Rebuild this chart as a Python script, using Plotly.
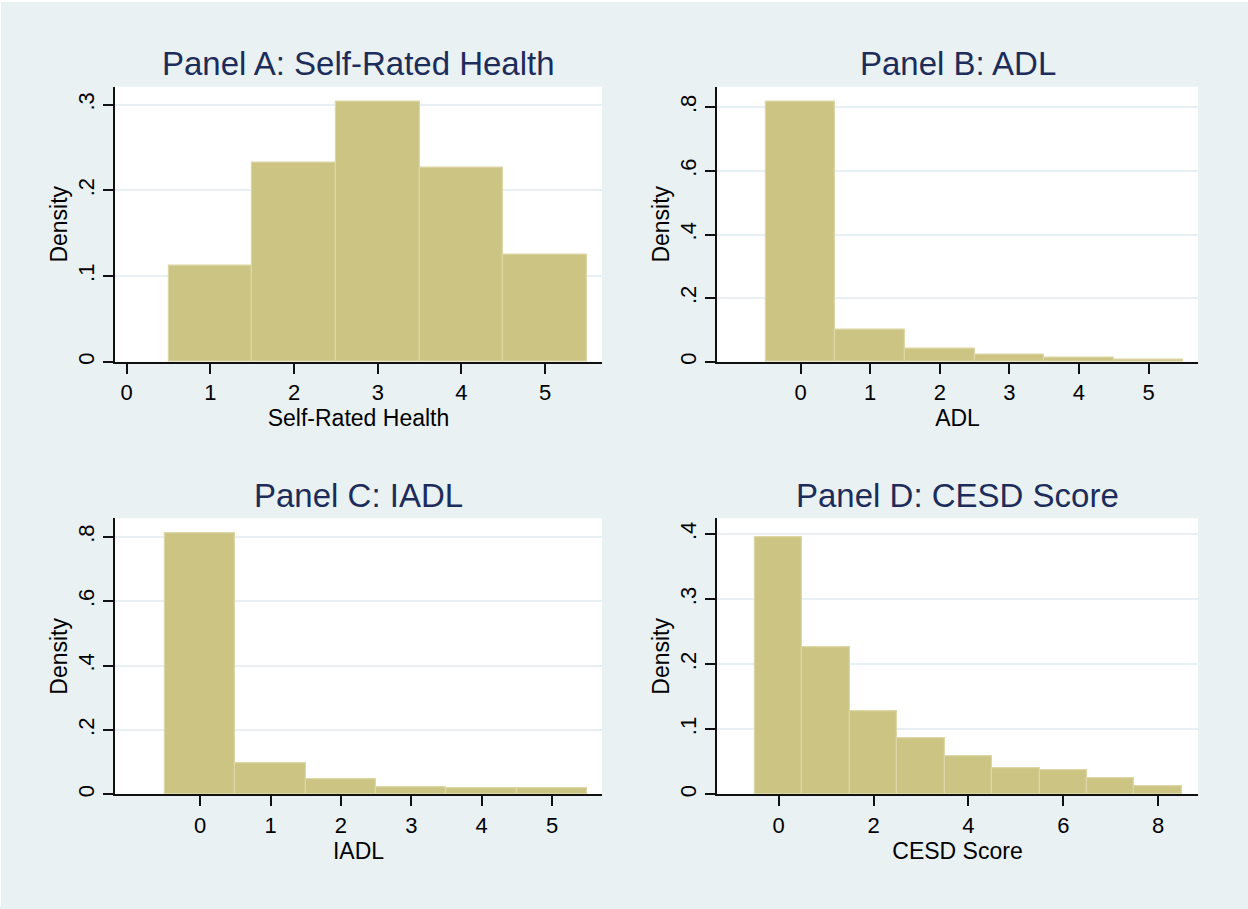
import plotly.graph_objects as go

W, H = 1248, 909

# ---------------- data ----------------
srh_bins = [1, 2, 3, 4, 5]
srh_density = [0.112, 0.2325, 0.304, 0.227, 0.1245]

adl_bins = [0, 1, 2, 3, 4, 5]
adl_density = [0.8175, 0.100, 0.042, 0.023, 0.0125, 0.006]

iadl_bins = [0, 1, 2, 3, 4, 5]
iadl_density = [0.811, 0.098, 0.048, 0.0226, 0.0175, 0.0178]

cesd_bins = [0, 1, 2, 3, 4, 5, 6, 7, 8]
cesd_density = [0.3954, 0.2255, 0.128, 0.0862, 0.059, 0.0398, 0.0367, 0.025, 0.0132]

titles = ["Panel A: Self-Rated Health", "Panel B: ADL", "Panel C: IADL", "Panel D: CESD Score"]
xtitles = ["Self-Rated Health", "ADL", "IADL", "CESD Score"]

x_ticks_a = [0, 1, 2, 3, 4, 5]
x_ticks_b = [0, 1, 2, 3, 4, 5]
x_ticks_c = [0, 1, 2, 3, 4, 5]
x_ticks_d = [0, 2, 4, 6, 8]

y_ticks_a = [0, 0.1, 0.2, 0.3]
y_text_a = ["0", ".1", ".2", ".3"]
y_ticks_b = [0, 0.2, 0.4, 0.6, 0.8]
y_text_b = ["0", ".2", ".4", ".6", ".8"]
y_ticks_c = [0, 0.2, 0.4, 0.6, 0.8]
y_text_c = ["0", ".2", ".4", ".6", ".8"]
y_ticks_d = [0, 0.1, 0.2, 0.3, 0.4]
y_text_d = ["0", ".1", ".2", ".3", ".4"]

# ---------------- style ----------------
BG = "#EAF1F3"
BAR = "#CCC483"
BAR_EDGE = "#DDD6A6"
GRID = "#E9F0F3"
TITLE_C = "#1C2D5B"
FONT = "Liberation Sans, Arial, Helvetica, sans-serif"

def px_x(p):
    return p / W

def px_y(p):
    return 1 - p / H

panels = [
    dict(bins=srh_bins, dens=srh_density, xt=x_ticks_a, yt=y_ticks_a, ytt=y_text_a,
         xr=[-0.14, 5.68], yr=[0, 0.321], xpx=(115, 602), ypx=(87, 363)),
    dict(bins=adl_bins, dens=adl_density, xt=x_ticks_b, yt=y_ticks_b, ytt=y_text_b,
         xr=[-1.20, 5.71], yr=[0, 0.8645], xpx=(717, 1198), ypx=(87, 363)),
    dict(bins=iadl_bins, dens=iadl_density, xt=x_ticks_c, yt=y_ticks_c, ytt=y_text_c,
         xr=[-1.21, 5.71], yr=[0, 0.8577], xpx=(115, 602), ypx=(520, 797)),
    dict(bins=cesd_bins, dens=cesd_density, xt=x_ticks_d, yt=y_ticks_d, ytt=y_text_d,
         xr=[-1.30, 8.84], yr=[0, 0.4245], xpx=(717, 1198), ypx=(520, 797)),
]

fig = go.Figure()
layout = dict(
    width=W, height=H,
    margin=dict(l=0, r=0, t=0, b=0),
    paper_bgcolor=BG,
    plot_bgcolor="white",
    showlegend=False,
    font=dict(family=FONT, color="black"),
    bargap=0,
)
annotations = []

for i, p in enumerate(panels):
    sfx = "" if i == 0 else str(i + 1)
    fig.add_trace(go.Bar(
        x=p["bins"], y=p["dens"], width=1,
        marker=dict(color=BAR, line=dict(color=BAR_EDGE, width=1.2)),
        xaxis="x" + sfx, yaxis="y" + sfx, hoverinfo="x+y",
    ))
    layout["xaxis" + sfx] = dict(
        domain=[px_x(p["xpx"][0]), px_x(p["xpx"][1])],
        anchor="y" + sfx, range=p["xr"],
        tickvals=p["xt"], ticks="outside", ticklen=10, tickwidth=1.5, tickcolor="#111",
        showline=True, linecolor="#111", linewidth=1.5,
        showgrid=False, zeroline=False,
        tickfont=dict(size=22, color="black", family=FONT),
        title=dict(text=xtitles[i], font=dict(size=23, color="black", family=FONT), standoff=0),
    )
    layout["yaxis" + sfx] = dict(
        domain=[px_y(p["ypx"][1]), px_y(p["ypx"][0])],
        anchor="x" + sfx, range=p["yr"],
        tickvals=p["yt"], ticktext=p["ytt"], tickangle=-90,
        ticks="outside", ticklen=10, tickwidth=1.5, tickcolor="#111",
        showline=True, linecolor="#111", linewidth=1.5,
        showgrid=True, gridcolor=GRID, gridwidth=2, zeroline=False,
        tickfont=dict(size=22, color="black", family=FONT),
        title=dict(text="Density", font=dict(size=23, color="black", family=FONT), standoff=0),
    )
    annotations.append(dict(
        text=titles[i], xref="paper", yref="paper",
        x=px_x((p["xpx"][0] + p["xpx"][1]) / 2), y=px_y(p["ypx"][0] - 23),
        xanchor="center", yanchor="middle", showarrow=False,
        font=dict(size=33, color=TITLE_C, family=FONT),
    ))

layout["annotations"] = annotations
layout["shapes"] = [
    dict(type="rect", xref="paper", yref="paper", x0=0, x1=1, y0=px_y(2), y1=1,
         fillcolor="white", line=dict(width=0), layer="above"),
    dict(type="rect", xref="paper", yref="paper", x0=0, x1=px_x(1), y0=0, y1=1,
         fillcolor="white", line=dict(width=0), layer="above"),
]
fig.update_layout(**layout)
fig.write_html(
    "out.html",
    config={"displayModeBar": False},
    post_script=(
        "document.body.style.margin='0';"
        "document.body.style.overflow='hidden';"
        "document.body.style.background='" + BG + "';"
    ),
)
